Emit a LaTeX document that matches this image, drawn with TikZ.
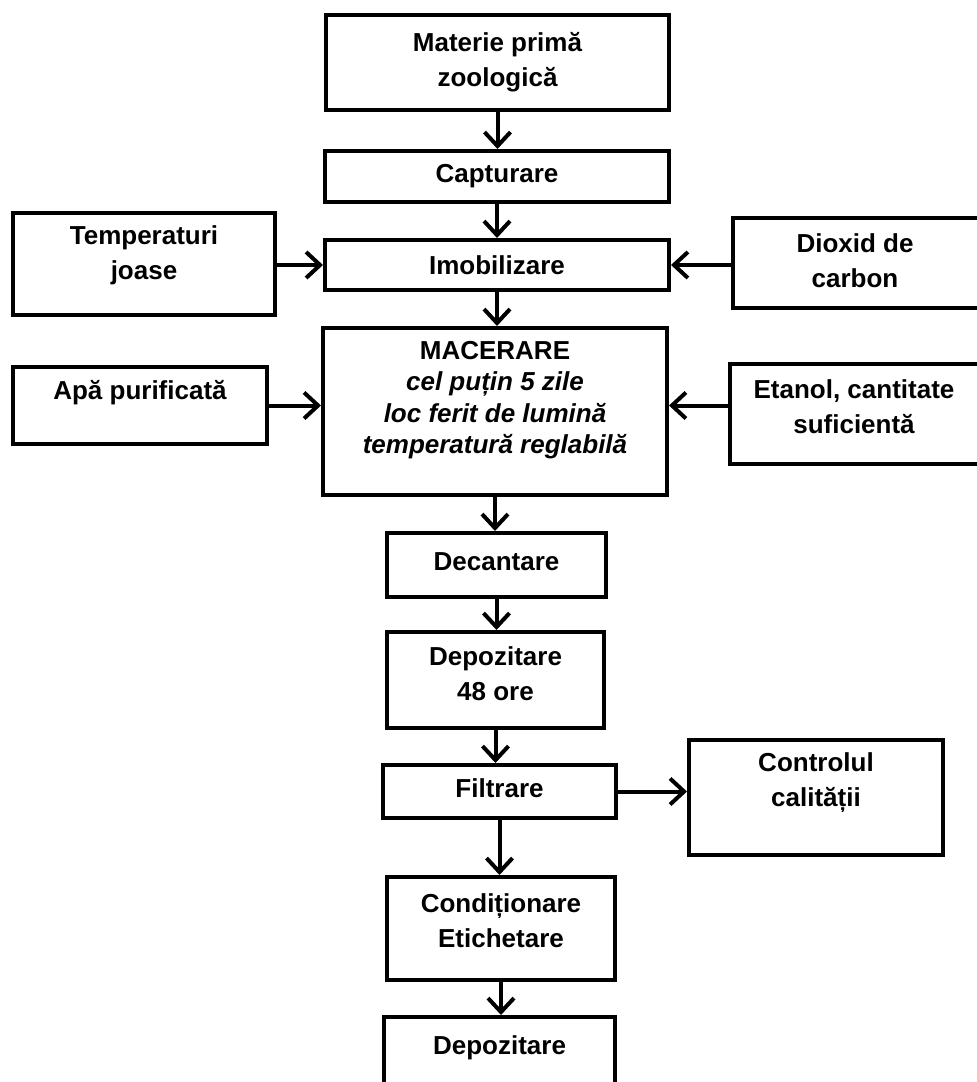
\documentclass[tikz,border=0pt]{standalone}
\usepackage{fontspec}
\setmainfont{Liberation Sans}
\usetikzlibrary{arrows.meta}
\begin{document}
\begin{tikzpicture}[x=1pt,y=-1pt,
  box/.style={draw=black, line width=4pt, rectangle, inner sep=0pt, fill=white},
  txt/.style={font=\fontsize{26}{35}\selectfont\bfseries, align=center, text=black, inner sep=0pt},
  mtxt/.style={font=\fontsize{26}{31.5}\selectfont, align=center, text=black, inner sep=0pt},
  arr/.style={line width=4pt, draw=black, -{Straight Barb[length=14pt,width=26pt]}},
]
\useasboundingbox[fill=white] (0,0) rectangle (977,1082);

\node[box, minimum width=343, minimum height=95,
  label={[txt]center:{Materie primă\\zoologică}}] (mat) at (497.5,62.5) {};
\node[box, minimum width=344, minimum height=51,
  label={[txt]center:{Capturare}}] (cap) at (497,176.5) {};
\node[box, minimum width=344, minimum height=50,
  label={[txt]center:{Imobilizare}}] (imo) at (497,265) {};
\node[box, minimum width=262, minimum height=102,
  label={[txt,yshift=9pt]center:{Temperaturi\\joase}}] (tmp) at (144,264) {};
\node[box, minimum width=256, minimum height=90,
  label={[txt,xshift=-6pt,yshift=2pt]center:{Dioxid de\\carbon}}] (dio) at (861,263) {};
\node[box, minimum width=344, minimum height=167,
  label={[mtxt,yshift=11.5pt]center:{\textbf{MACERARE}\\\textbf{\itshape cel puțin 5 zile}\\\textbf{\itshape loc ferit de lumină}\\\textbf{\itshape temperatură reglabilă}}}] (mac) at (495,411.5) {};
\node[box, minimum width=254, minimum height=77,
  label={[txt,yshift=12.5pt]center:{Apă purificată}}] (apa) at (140,405.5) {};
\node[box, minimum width=254, minimum height=100,
  label={[txt,xshift=-3pt,yshift=7pt]center:{Etanol, cantitate\\suficientă}}] (eta) at (857,414) {};
\node[box, minimum width=219, minimum height=64,
  label={[txt,yshift=3pt]center:{Decantare}}] (dec) at (496.5,565) {};
\node[box, minimum width=217, minimum height=96,
  label={[txt,yshift=6pt]center:{Depozitare\\48 ore}}] (d48) at (495.5,680) {};
\node[box, minimum width=233, minimum height=53,
  label={[txt,yshift=3pt]center:{Filtrare}}] (fil) at (499.5,791.5) {};
\node[box, minimum width=254, minimum height=115,
  label={[txt,yshift=15pt]center:{Controlul\\calității}}] (ctl) at (816,797.5) {};
\node[box, minimum width=228, minimum height=103,
  label={[txt,yshift=8pt]center:{Condiționare\\Etichetare}}] (cond) at (501,928.5) {};
\node[box, minimum width=231, minimum height=93,
  label={[txt,yshift=15.5pt]center:{Depozitare}}] (dep) at (499.5,1063.5) {};

\draw[arr] (mat.south) -- (mat.south |- cap.north);
\draw[arr] (cap.south) -- (cap.south |- imo.north);
\draw[arr] (tmp.east |- imo.west) -- (imo.west);
\draw[arr] (dio.west |- imo.east) -- (imo.east);
\draw[arr] (imo.south) -- (imo.south |- mac.north);
\draw[arr] (apa.east) -- (apa.east -| mac.west);
\draw[arr] (eta.west |- apa.east) -- (mac.east |- apa.east);
\draw[arr] (mac.south) -- (mac.south |- dec.north);
\draw[arr] (dec.south) -- (dec.south |- d48.north);
\draw[arr] (d48.south) -- (d48.south |- fil.north);
\draw[arr] (fil.east) -- (fil.east -| ctl.west);
\draw[arr] (fil.south) -- (fil.south |- cond.north);
\draw[arr] (cond.south) -- (cond.south |- dep.north);
\end{tikzpicture}
\end{document}
